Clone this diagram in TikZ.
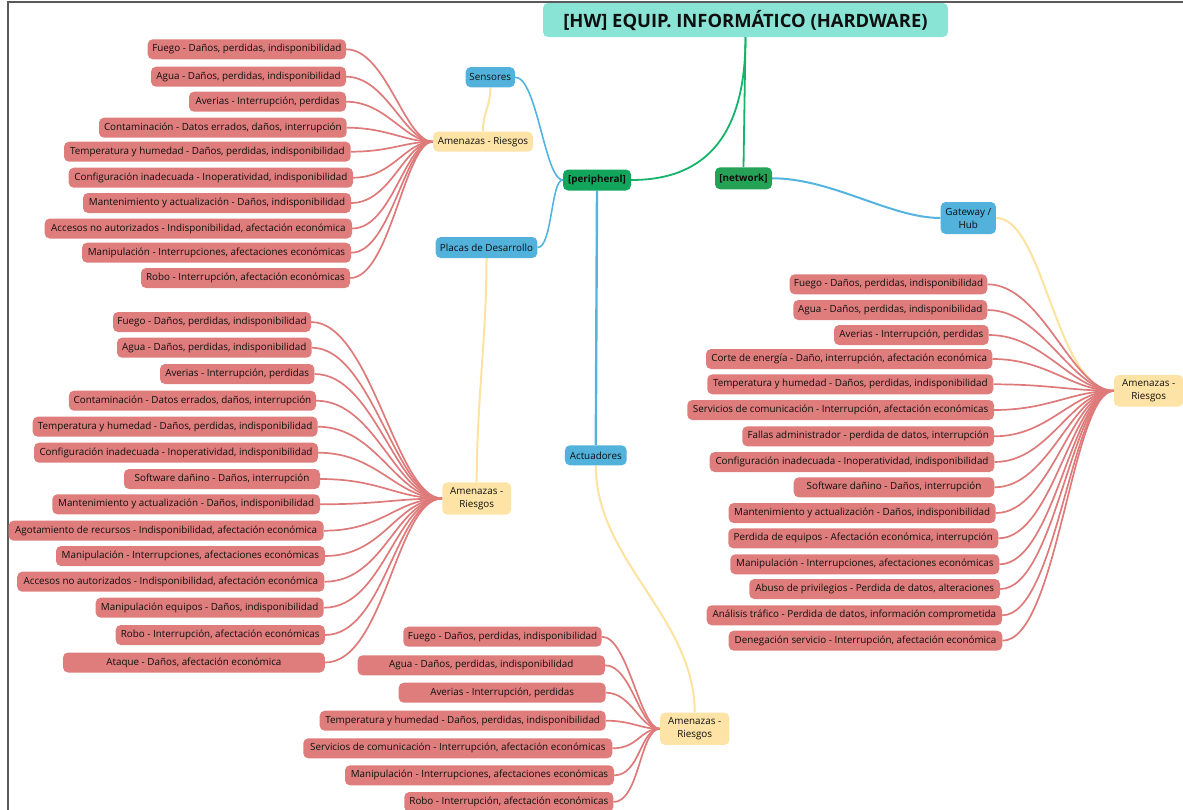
\documentclass[tikz,border=0pt]{standalone}
\usepackage{fontspec}
\setmainfont{Open Sans}
\usetikzlibrary{backgrounds}

% palette
\definecolor{rootfill}{RGB}{138,228,214}
\definecolor{perfill}{RGB}{18,166,92}
\definecolor{netfill}{RGB}{38,162,86}
\definecolor{devfill}{RGB}{82,178,220}
\definecolor{threatfill}{RGB}{253,228,166}
\definecolor{riskfill}{RGB}{223,125,125}
\definecolor{txt}{RGB}{15,15,15}
\definecolor{greenline}{RGB}{22,180,106}
\definecolor{blueline}{RGB}{84,180,224}
\definecolor{yellowline}{RGB}{253,226,160}
\definecolor{redline}{RGB}{222,122,122}
\definecolor{framec}{RGB}{90,90,90}

% one risk box: name, left x, right x, centre y, text
\newcommand\riskbox[5]{%
  \node[risk, minimum width={#3-#2}] (#1) at ({(#2+#3)/2},#4) {#5};}

\begin{document}
\begin{tikzpicture}[x=1pt,y=-1pt,
  base/.style={rounded corners=5pt, inner sep=0pt, align=center, text=txt,
    font=\fontsize{9.85}{13}\selectfont},
  risk/.style={base, fill=riskfill, minimum height=20pt},
  threat/.style={base, fill=threatfill},
  device/.style={base, fill=devfill},
  hub/.style={base, font=\fontsize{9.85}{13}\selectfont\bfseries},
  gline/.style={draw=greenline, line width=1.8pt},
  bline/.style={draw=blueline, line width=1.6pt},
  yline/.style={draw=yellowline, line width=2pt},
  rline/.style={draw=redline, line width=1.7pt},
]
\useasboundingbox (0,0) rectangle (1183,809);

% frame edges
\draw[framec, line width=1.4pt] (8,812) -- (8,2) -- (1185,2);

% main branches
\node[base, fill=rootfill, minimum width=405pt, minimum height=34pt,
  font=\fontsize{18.4}{20}\selectfont\bfseries] (root) at (745.5,20)
  {[HW] EQUIP. INFORMÁTICO (HARDWARE)};
\node[hub, fill=perfill, minimum width=68pt, minimum height=21pt] (per) at (597,180) {[peripheral]};
\node[hub, fill=netfill, minimum width=57pt, minimum height=22pt] (net) at (743.5,178.3) {[network]};

% devices
\node[device, minimum width=49.3pt, minimum height=20.3pt] (sen) at (490.3,77.2) {Sensores};
\node[device, minimum width=101.6pt, minimum height=21pt] (pla) at (486.5,247.5) {Placas de Desarrollo};
\node[device, minimum width=61.7pt, minimum height=20pt] (act) at (595.8,455.3) {Actuadores};
\node[device, minimum width=55.3pt, minimum height=32pt] (gw) at (968.3,218) {Gateway /\\Hub};

% threat hubs
\node[threat, minimum width=100pt, minimum height=20pt] (amT) at (483,141.7) {Amenazas - Riesgos};
\node[threat, minimum width=68.7pt, minimum height=32.4pt] (amL) at (476.7,498.5) {Amenazas -\\Riesgos};
\node[threat, minimum width=69.3pt, minimum height=32.3pt] (amB) at (694.7,728.8) {Amenazas -\\Riesgos};
\node[threat, minimum width=69.3pt, minimum height=31.7pt] (amR) at (1148.7,390.8) {Amenazas -\\Riesgos};

% Sensores
\riskbox{T1}{147.7}{346}{49.3}{Fuego - Daños, perdidas, indisponibilidad}
\riskbox{T2}{151}{346}{76.7}{Agua - Daños, perdidas, indisponibilidad}
\riskbox{T3}{189}{346}{101.7}{Averias - Interrupción, perdidas}
\riskbox{T4}{99}{346.7}{127.7}{Contaminación - Datos errados, daños, interrupción}
\riskbox{T5}{64}{350.7}{151.7}{Temperatura y humedad - Daños, perdidas, indisponibilidad}
\riskbox{T6}{68.7}{353}{177.7}{Configuración inadecuada - Inoperatividad, indisponibilidad}
\riskbox{T7}{83}{351}{203}{Mantenimiento y actualización - Daños, indisponibilidad}
\riskbox{T8}{44.7}{352}{228.5}{Accesos no autorizados - Indisponibilidad, afectación económica}
\riskbox{T9}{82}{351}{252.7}{Manipulación - Interrupciones, afectaciones económicas}
\riskbox{T10}{141}{350}{278}{Robo - Interrupción, afectación económicas}

% Placas de Desarrollo
\riskbox{L1}{113}{311}{322}{Fuego - Daños, perdidas, indisponibilidad}
\riskbox{L2}{117}{311.7}{347.7}{Agua - Daños, perdidas, indisponibilidad}
\riskbox{L3}{160}{314.4}{374}{Averias - Interrupción, perdidas}
\riskbox{L4}{68.9}{316}{400.7}{Contaminación - Datos errados, daños, interrupción}
\riskbox{L5}{32.7}{317.5}{426.7}{Temperatura y humedad - Daños, perdidas, indisponibilidad}
\riskbox{L6}{34}{318}{452.7}{Configuración inadecuada - Inoperatividad, indisponibilidad}
\riskbox{L7}{124}{320}{479}{Software dañino - Daños, interrupción}
\riskbox{L8}{52.3}{320}{504.3}{Mantenimiento y actualización - Daños, indisponibilidad}
\riskbox{L9}{8.6}{323.7}{530.7}{Agotamiento de recursos - Indisponibilidad, afectación económica}
\riskbox{L10}{56}{324.8}{556}{Manipulación - Interrupciones, afectaciones económicas}
\riskbox{L11}{17.2}{324.4}{581.7}{Accesos no autorizados - Indisponibilidad, afectación económica}
\riskbox{L12}{95.7}{323.7}{607.7}{Manipulación equipos - Daños, indisponibilidad}
\riskbox{L13}{115.7}{324.8}{635}{Robo - Interrupción, afectación económicas}
\riskbox{L14}{63}{324.8}{662.5}{Ataque - Daños, afectación económica}

% Gateway / Hub
\riskbox{R1}{789.7}{987.3}{284.3}{Fuego - Daños, perdidas, indisponibilidad}
\riskbox{R2}{793.3}{987.3}{310}{Agua - Daños, perdidas, indisponibilidad}
\riskbox{R3}{834}{988.7}{335}{Averias - Interrupción, perdidas}
\riskbox{R4}{706}{992.3}{359}{Corte de energía - Daño, interrupción, afectación económica}
\riskbox{R5}{707.3}{993.3}{384.3}{Temperatura y humedad - Daños, perdidas, indisponibilidad}
\riskbox{R6}{687.3}{994}{410}{Servicios de comunicación - Interrupción, afectación económicas}
\riskbox{R7}{742.3}{994}{436.3}{Fallas administrador - perdida de datos, interrupción}
\riskbox{R8}{709.7}{994.3}{462}{Configuración inadecuada - Inoperatividad, indisponibilidad}
\riskbox{R9}{793.7}{994.3}{487.3}{Software dañino - Daños, interrupción}
\riskbox{R10}{728.7}{995.7}{513}{Mantenimiento y actualización - Daños, indisponibilidad}
\riskbox{R11}{728.3}{998.3}{538.3}{Perdida de equipos - Afectación económica, interrupción}
\riskbox{R12}{730.3}{999.3}{564.3}{Manipulación - Interrupciones, afectaciones económicas}
\riskbox{R13}{749.3}{1000}{589}{Abuso de privilegios - Perdida de datos, alteraciones}
\riskbox{R14}{706.7}{1002}{615.3}{Análisis tráfico - Perdida de datos, información comprometida}
\riskbox{R15}{728.7}{1002.3}{640.7}{Denegación servicio - Interrupción, afectación económica}

% Actuadores
\riskbox{B1}{403.3}{601.7}{636.7}{Fuego - Daños, perdidas, indisponibilidad}
\riskbox{B2}{357.7}{605}{665.3}{Agua - Daños, perdidas, indisponibilidad}
\riskbox{B3}{398.7}{605.7}{692.7}{Averias - Interrupción, perdidas}
\riskbox{B4}{319.7}{605.7}{720.7}{Temperatura y humedad - Daños, perdidas, indisponibilidad}
\riskbox{B5}{303.3}{612.3}{748.3}{Servicios de comunicación - Interrupción, afectación económicas}
\riskbox{B6}{345}{614}{775.3}{Manipulación - Interrupciones, afectaciones económicas}
\riskbox{B7}{404.3}{613.3}{802}{Robo - Interrupción, afectación económicas}

\begin{scope}[on background layer]
  % trunk
  \draw[gline] (root.south) .. controls +(0,93) and +(79,0) .. (per.east);
  \draw[gline] (root.south) -- (net.north);
  % devices
  \draw[bline] (per.west) .. controls +(-18,0) and +(22,0) .. (sen.east);
  \draw[bline] (per.west) .. controls +(-12,0) and +(15,0) .. (pla.east);
  \draw[bline, line width=2.4pt] (per.south) -- (act.north);
  \draw[bline, line width=2pt] (net.east) .. controls +(60,0) and +(-50,0) .. (gw.west);
  % threat hubs
  \draw[yline] (sen.south) .. controls +(0,20) and +(0,-20) .. (amT.north);
  \draw[yline] (pla.south) .. controls +(0,80) and +(0,-80) .. (amL.north);
  \draw[yline] (act.south) .. controls +(0,95) and +(0,-95) .. (amB.north);
  \draw[yline] (gw.east) .. controls +(48,0) and +(-58,0) .. (amR.west);
  % risks
  \foreach \i in {1,...,10}
    \draw[rline] (T\i.east) .. controls +(40,0) and +(-28,0) .. (amT.west);
  \foreach \i in {1,...,14}
    \draw[rline] (L\i.east) .. controls +(60,0) and +(-46,0) .. (amL.west);
  \foreach \i in {1,...,15}
    \draw[rline] (R\i.east) .. controls +(55,0) and +(-42,0) .. (amR.west);
  \foreach \i in {1,...,7}
    \draw[rline] (B\i.east) .. controls +(26,0) and +(-20,0) .. (amB.west);
\end{scope}
\end{tikzpicture}
\end{document}
